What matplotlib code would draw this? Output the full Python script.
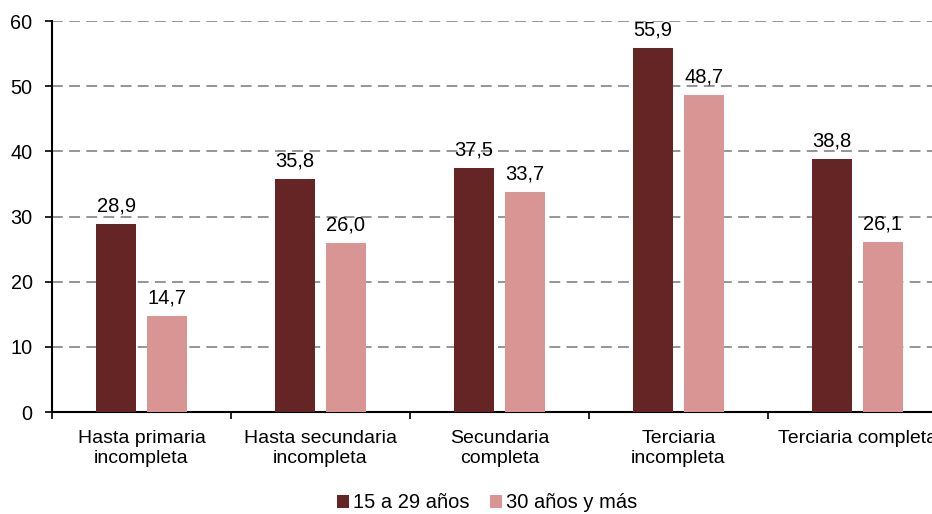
import numpy as np
import matplotlib.pyplot as plt

plt.rcParams['font.family'] = ['Liberation Sans', 'DejaVu Sans']

categories = ['Hasta primaria\nincompleta', 'Hasta secundaria\nincompleta',
              'Secundaria\ncompleta', 'Terciaria\nincompleta', 'Terciaria completa']
young = [28.9, 35.8, 37.5, 55.9, 38.8]
older = [14.7, 26.0, 33.7, 48.7, 26.1]
series_names = ['15 a 29 años', '30 años y más']

dark = '#662525'
light = '#d99594'

fig = plt.figure(figsize=(9.32, 5.14), dpi=100)
# axes runs past the right edge, like the original
ax = fig.add_axes([52/932, 1 - 412/514, 895/932, 391/514])

x = np.arange(len(categories))
w = 0.223
off = 0.142
b1 = ax.bar(x - off, young, w, color=dark, label=series_names[0], zorder=3)
b2 = ax.bar(x + off, older, w, color=light, label=series_names[1], zorder=3)

for bars, vals in [(b1, young), (b2, older)]:
    for b, v in zip(bars, vals):
        ax.text(b.get_x() + b.get_width()/2, v + 1.3, f'{v:.1f}'.replace('.', ','),
                ha='center', va='bottom', fontsize=14.5)

ax.set_xlim(-0.5, len(categories) - 0.5)
ax.set_ylim(0, 60)
ax.set_yticks(range(0, 61, 10))
for yv in range(10, 61, 10):
    ax.axhline(yv, color='#8c8c8c', linestyle=(0, (6, 3.5)), linewidth=1.3, zorder=1)

ax.set_xticks(x)
ax.set_xticklabels(categories, fontsize=14)
ax.set_xticks(np.arange(-0.5, len(categories), 1), minor=True)
ax.tick_params(axis='x', which='major', length=0, pad=13)
ax.tick_params(axis='x', which='minor', length=5, width=1.2, direction='out')
ax.tick_params(axis='y', length=5, width=1.2, labelsize=14.3, direction='out', pad=9)

for s in ['top', 'right']:
    ax.spines[s].set_visible(False)
ax.spines['left'].set_linewidth(1.5)
ax.spines['bottom'].set_linewidth(1.5)

fig.legend(handles=[b1, b2], labels=series_names, loc='center', bbox_to_anchor=(487/932, 1 - 503/514),
           ncol=2, frameon=False, fontsize=14.5, handlelength=0.6, handleheight=0.6,
           handletextpad=0.2, columnspacing=1.0)

fig.savefig('out.png', dpi=100)
